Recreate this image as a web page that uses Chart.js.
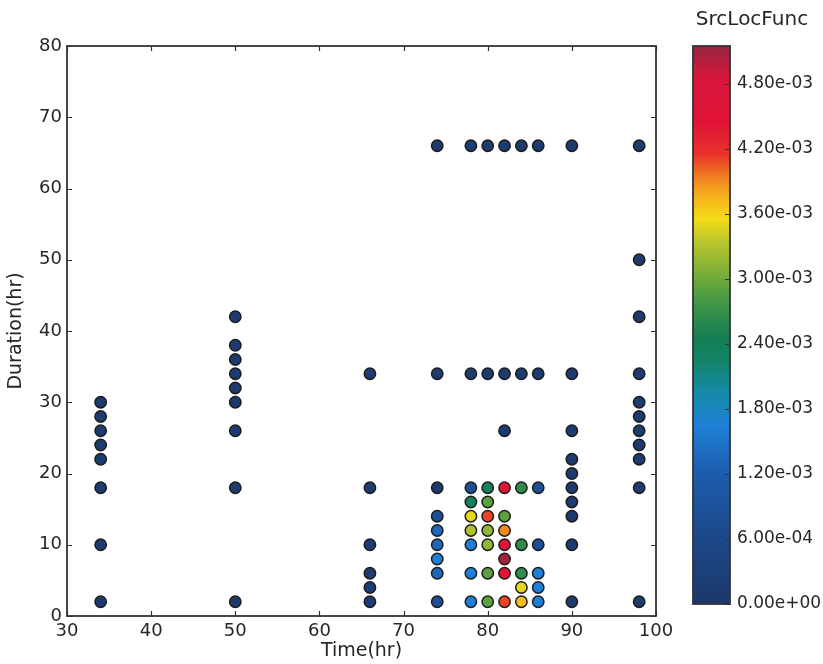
<!DOCTYPE html>
<html lang="en">
<head>
<meta charset="UTF-8">
<title>SrcLocFunc vs Time and Duration</title>
<script src="https://cdn.jsdelivr.net/npm/chart.js"></script>
<style>
  body { margin: 0; background: #fff; }
  .wrap { position: relative; width: 823px; height: 664px; }
  #scatter { position: absolute; left: 0; top: 0; }
  #colorbar { position: absolute; left: 680px; top: 0; }
</style>
</head>
<body>
<div class="wrap">
  <canvas id="scatter" width="680" height="664"></canvas>
  <canvas id="colorbar" width="143" height="664"></canvas>
</div>

<script>
// one entry per time column: durations measured at that time and their SrcLocFunc values
const columnTimes = [34, 50, 66, 74, 78, 80, 82, 84, 86, 90, 98];

const columnDurations = [
    [2, 10, 18, 22, 24, 26, 28, 30],
    [2, 18, 26, 30, 32, 34, 36, 38, 42],
    [2, 4, 6, 10, 18, 34],
    [2, 6, 8, 10, 12, 14, 18, 34, 66],
    [2, 6, 10, 12, 14, 16, 18, 34, 66],
    [2, 6, 10, 12, 14, 16, 18, 34, 66],
    [2, 6, 8, 10, 12, 14, 18, 26, 34, 66],
    [2, 4, 6, 10, 18, 34, 66],
    [2, 4, 6, 10, 18, 34, 66],
    [2, 10, 14, 16, 18, 20, 22, 26, 34, 66],
    [2, 18, 22, 24, 26, 28, 30, 34, 42, 50, 66]
];

const columnValues = [
    [1e-4, 1e-4, 1e-4, 1e-4, 1e-4, 1e-4, 1e-4, 1e-4],
    [1e-4, 1e-4, 1e-4, 1e-4, 1e-4, 1e-4, 1e-4, 1e-4, 1e-4],
    [2e-4, 2e-4, 2e-4, 2e-4, 1e-4, 1e-4],
    [8e-4, 1.35e-3, 1.65e-3, 1.35e-3, 1.35e-3, 8e-4, 1e-4, 1e-4, 1e-4],
    [1.65e-3, 1.65e-3, 1.65e-3, 3.3e-3, 3.5e-3, 2.35e-3, 8e-4, 1e-4, 1e-4],
    [2.9e-3, 2.9e-3, 3.15e-3, 3.15e-3, 4.1e-3, 2.9e-3, 2.35e-3, 1e-4, 1e-4],
    [4.1e-3, 4.5e-3, 5.1e-3, 4.5e-3, 3.9e-3, 2.9e-3, 4.5e-3, 1e-4, 1e-4, 1e-4],
    [3.7e-3, 3.5e-3, 2.65e-3, 2.65e-3, 2.65e-3, 1e-4, 1e-4],
    [1.65e-3, 1.65e-3, 1.65e-3, 8e-4, 8e-4, 1e-4, 1e-4],
    [1e-4, 1e-4, 1e-4, 1e-4, 1e-4, 1e-4, 1e-4, 1e-4, 1e-4, 1e-4],
    [1e-4, 1e-4, 1e-4, 1e-4, 1e-4, 1e-4, 1e-4, 1e-4, 1e-4, 1e-4, 1e-4]
];

// colour bar range and labelled ticks
const cbMin = 0;
const cbMax = 5.15e-3;
const cbTicks = [0, 6e-4, 1.2e-3, 1.8e-3, 2.4e-3, 3.0e-3, 3.6e-3, 4.2e-3, 4.8e-3];

// colormap stops (value, colour)
const cmap = [
    [0.00e-3, '#1c386a'],
    [0.60e-3, '#1c4889'],
    [1.20e-3, '#1c5cad'],
    [1.65e-3, '#1f7fd6'],
    [1.95e-3, '#158aa8'],
    [2.25e-3, '#138468'],
    [2.45e-3, '#147e52'],
    [2.75e-3, '#3c9448'],
    [3.05e-3, '#7aae38'],
    [3.35e-3, '#bcc62c'],
    [3.55e-3, '#f4dc18'],
    [3.75e-3, '#f6b41c'],
    [3.95e-3, '#f07c22'],
    [4.15e-3, '#e8322a'],
    [4.45e-3, '#e01438'],
    [4.85e-3, '#d8163c'],
    [5.15e-3, '#962640']
];

const textColor = '#262626';
const frameColor = '#333333';
const tickFont = { family: 'DejaVu Sans', size: 18 };
const titleFont = { family: 'DejaVu Sans', size: 19 };
const cbFont = { family: 'DejaVu Sans', size: 17 };

function hexToRgb(h) {
    return [parseInt(h.slice(1, 3), 16), parseInt(h.slice(3, 5), 16), parseInt(h.slice(5, 7), 16)];
}

function colorFor(v) {
    if (v <= cmap[0][0]) return cmap[0][1];
    for (let i = 1; i < cmap.length; i++) {
        if (v <= cmap[i][0]) {
            const a = cmap[i - 1], b = cmap[i];
            const f = (v - a[0]) / (b[0] - a[0]);
            const ca = hexToRgb(a[1]), cb = hexToRgb(b[1]);
            const c = ca.map((x, k) => Math.round(x + (cb[k] - x) * f));
            return 'rgb(' + c.join(',') + ')';
        }
    }
    return cmap[cmap.length - 1][1];
}

function fmtExp(v) {
    const s = Number(v).toExponential(2);
    const [m, e] = s.split('e');
    const sign = e[0] === '-' ? '-' : '+';
    const digits = e.replace(/^[+-]/, '').padStart(2, '0');
    return m + 'e' + sign + digits;
}

// flatten the columns into scatter points
const points = [];
const pointColors = [];
columnTimes.forEach((t, i) => {
    columnDurations[i].forEach((d, j) => {
        points.push({ x: t, y: d });
        pointColors.push(colorFor(columnValues[i][j]));
    });
});

// box around the plot with inward tick marks on all four sides
const frameTicks = {
    id: 'frameTicks',
    afterDraw(chart) {
        const { ctx, chartArea: a, scales } = chart;
        const len = 5;
        ctx.save();
        ctx.strokeStyle = frameColor;
        ctx.lineWidth = 1.2;
        ctx.beginPath();
        scales.x.ticks.forEach(t => {
            const px = Math.round(scales.x.getPixelForValue(t.value)) + 0.5;
            ctx.moveTo(px, a.bottom); ctx.lineTo(px, a.bottom - len);
            ctx.moveTo(px, a.top); ctx.lineTo(px, a.top + len);
        });
        scales.y.ticks.forEach(t => {
            const py = Math.round(scales.y.getPixelForValue(t.value)) + 0.5;
            ctx.moveTo(a.left, py); ctx.lineTo(a.left + len, py);
            ctx.moveTo(a.right, py); ctx.lineTo(a.right - len, py);
        });
        ctx.stroke();
        ctx.lineWidth = 1.8;
        ctx.strokeRect(a.left, a.top, a.right - a.left, a.bottom - a.top);
        ctx.restore();
    }
};

new Chart(document.getElementById('scatter'), {
    type: 'scatter',
    data: {
        datasets: [{
            data: points,
            pointRadius: 5.7,
            pointBorderWidth: 1.5,
            pointBackgroundColor: pointColors,
            pointBorderColor: '#1c1c1c'
        }]
    },
    options: {
        responsive: false,
        animation: false,
        layout: { padding: { left: 0, top: 46, right: 24, bottom: 0 } },
        plugins: {
            legend: { display: false },
            tooltip: { enabled: false }
        },
        scales: {
            x: {
                type: 'linear',
                min: 30,
                max: 100,
                ticks: { stepSize: 10, padding: 5, color: textColor, font: tickFont, maxRotation: 0 },
                grid: { display: false, drawTicks: false },
                border: { display: false },
                title: { display: true, text: 'Time(hr)', color: textColor, font: titleFont, padding: { top: 0, bottom: 2 } },
                afterFit: s => { s.height = 48; }
            },
            y: {
                type: 'linear',
                min: 0,
                max: 80,
                ticks: { stepSize: 10, padding: 5, color: textColor, font: tickFont },
                grid: { display: false, drawTicks: false },
                border: { display: false },
                title: { display: true, text: 'Duration(hr)', color: textColor, font: titleFont, padding: { top: 5, bottom: 0 } },
                afterFit: s => { s.width = 67; }
            }
        }
    },
    plugins: [frameTicks]
});

// gradient strip, frame, ticks and title for the colour bar
const colorbarStrip = {
    id: 'colorbarStrip',
    beforeDraw(chart) {
        const { ctx, chartArea: a, scales } = chart;
        const y = scales.y;
        const grad = ctx.createLinearGradient(0, y.getPixelForValue(cbMin), 0, y.getPixelForValue(cbMax));
        cmap.forEach(([v, c]) => grad.addColorStop((v - cbMin) / (cbMax - cbMin), c));
        ctx.save();
        ctx.fillStyle = grad;
        ctx.fillRect(a.left, a.top, a.right - a.left, a.bottom - a.top);
        ctx.restore();
    },
    afterDraw(chart) {
        const { ctx, chartArea: a, scales } = chart;
        ctx.save();
        ctx.strokeStyle = frameColor;
        ctx.lineWidth = 1.2;
        ctx.beginPath();
        cbTicks.forEach(v => {
            const py = Math.round(scales.y.getPixelForValue(v)) + 0.5;
            ctx.moveTo(a.right, py); ctx.lineTo(a.right - 5, py);
        });
        ctx.stroke();
        ctx.lineWidth = 1.8;
        ctx.strokeRect(a.left, a.top, a.right - a.left, a.bottom - a.top);
        ctx.fillStyle = textColor;
        ctx.font = '20px "DejaVu Sans"';
        ctx.textAlign = 'center';
        ctx.textBaseline = 'middle';
        ctx.fillText('SrcLocFunc', 72, 20);
        ctx.restore();
    }
};

new Chart(document.getElementById('colorbar'), {
    type: 'scatter',
    data: { datasets: [] },
    options: {
        responsive: false,
        animation: false,
        layout: { padding: { left: 13, top: 46, right: 0, bottom: 60 } },
        plugins: {
            legend: { display: false },
            tooltip: { enabled: false }
        },
        scales: {
            x: { display: false, min: 0, max: 1 },
            y: {
                position: 'right',
                min: cbMin,
                max: cbMax,
                afterBuildTicks: s => { s.ticks = cbTicks.map(v => ({ value: v })); },
                ticks: { padding: 7, color: textColor, font: cbFont, callback: v => fmtExp(v) },
                grid: { display: false, drawTicks: false },
                border: { display: false },
                afterFit: s => { s.width = 93; }
            }
        }
    },
    plugins: [colorbarStrip]
});
</script>
</body>
</html>
